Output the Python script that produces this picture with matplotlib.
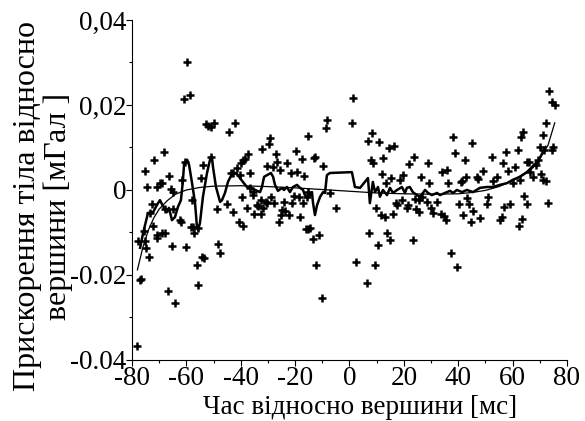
import matplotlib
matplotlib.use("Agg")
import matplotlib.pyplot as plt
import numpy as np
from matplotlib.ticker import MultipleLocator, FixedLocator, FixedFormatter

plt.rcParams["font.family"] = "serif"
plt.rcParams["font.serif"] = ["Liberation Serif", "DejaVu Serif"]
SERIF = ["Liberation Serif", "DejaVu Serif"]

# measured points: time [ms], acceleration [1e-3 mGal]
scatter_x = [
    -78.1, -77.0, -76.7, -77.7, -75.2, -75.6, -74.8, -73.7,
    -75.2, -71.9, -68.2, -74.5, -70.8, -69.7, -69.0, -66.4, -61.6,
    -65.6, -64.9, -72.6, -67.8, -64.9, -62.3, -57.9, -57.5,
    -53.9, -54.6, -48.7, -45.0, -42.8, -40.6, -39.2, -39.9, -40.3, -39.5,
    -70.8, -69.0, -67.8, -70.8, -72.2, -65.3, -60.1, -48.3, -47.6,
    -66.7, -64.2, -55.7, -56.1, -54.2, -53.5, -58.3, -57.2, -62.0,
    -59.7, -60.9, -58.7, -52.8, -52.0, -50.9, -49.8, -42.1, -44.3,
    -37.7,
    -37.3, -38.4, -39.2, -41.4, -43.6, -36.6, -32.2, -29.6, -29.2, -27.0,
    -26.7, -30.3, -28.1, -25.6, -23.0, -19.7, -17.5, -21.5, -19.3, -16.7,
    -15.3, -13.0, -12.7, -9.7, -8.6, -8.3, -7.2, 1.3, 0.9, 6.8,
    -35.1, -34.0, -32.5, -31.8, -30.7, -28.9, -27.8, -25.9, -25.2, -23.7,
    -24.1, -22.2, -21.1, -20.4, -18.6, -18.2, -17.1, -16.0, -15.3, -14.5,
    -15.6, -13.4, -11.2, -12.3, -10.1, -5.0, 2.4, 6.4, 7.2,
    -35.5, -32.5, -30.3, -33.6, -24.8, -15.3,
    9.4, 10.5, 9.7, 11.6, 13.1, 13.8, 14.9, 16.0, 17.1, 17.5,
    19.3, 21.1, 21.5, 23.3, 24.5, 25.6, 25.6, 28.5, 30.0, 30.7,
    32.2, 33.6, 34.7, 35.5, 37.3, 39.5, 40.3, 41.7, 43.2, 43.9,
    45.4, 44.7, 48.0, 50.6, 51.0, 55.3, 56.1, 56.8, 59.0, 62.3,
    63.4, 64.2, 65.3, 73.0,
    73.3, 74.5, 75.6, 72.3, 71.1, 70.0, 74.9, 74.5, 63.8, 63.1,
    62.0, 57.5, 56.4, 52.4, 45.0, 38.0, 38.8, 42.5, 35.9, 34.0,
    28.9, 23.7, 21.9, 19.7, 18.6, 16.4, 14.5, 12.3, 10.8, 8.3,
    7.9, 8.6, 11.9, 13.4, 15.3, 26.3, 29.2, 36.2, 41.0, 42.8,
    46.9, 47.3, 49.1, 54.2, 52.8, 58.3, 60.9, 65.3, 66.0, 67.5,
    70.4, 71.1, 72.2, 41.4, 24.1, 26.7,
    60.1, 62.7, 66.4, 68.6, 69.3, 71.5,
    -60.4, -50.8, -55.7, -42.8, -73.3, -36.6, -35.5,
]
scatter_y = [
    -36.7, -21.2, -20.9, -12.0, -12.0, -9.6, -13.6, -15.8,
    4.5, 7.1, 8.9, 0.7, 0.7, 1.6, 1.6, 3.3, 2.4,
    0.2, -0.5, -3.3, -4.5, -4.5, -7.1, -2.4, -8.7,
    5.9, 2.8, -4.5, -3.3, -5.2, -7.5, -8.5, 6.4, 3.5, -1.6,
    -10.6, -10.1, -10.1, -11.3, -8.5, -13.2, -13.4, -12.7, -14.8,
    -23.8, -26.6, -22.4, -17.6, -15.8, -16.0, -8.7, -10.1, -7.5,
    30.1, 21.4, 22.4, 15.5, 15.1, 14.8, 15.8, 15.8, 13.6,
    -4.2,
    8.5, 7.3, 7.1, 5.2, 4.0, 4.0, 9.6, 10.8, 12.2, 8.5,
    6.6, 5.6, 5.4, 4.7, 6.4, 9.2, 7.3, 4.0, 4.2, 3.3,
    12.7, 7.5, 7.8, 5.6, 14.6, 16.5, -0.7, 21.6, 15.8, 11.5,
    -5.6, -3.5, -5.6, -4.2, -2.8, -1.6, -3.1, -7.5, -5.9, -4.9,
    -2.8, -5.9, -3.1, -1.4, -1.6, -6.4, -3.1, -9.2, -9.2, -8.9,
    -1.6, -11.5, -10.6, -17.6, -25.4, -4.2, -16.9, -21.9, -10.1,
    -1.2, -2.4, -3.1, -3.8, -4.7, -0.5,
    -17.6, -12.9, -4.2, -5.9, -6.4, -10.1, -11.8, -5.6, -3.1, -3.5,
    -2.4, -4.2, -3.5, -11.8, -4.5, -5.2, -2.4, -2.8, -4.2, -5.4,
    -2.8, -5.6, -6.1, -7.1, -14.8, -18.1, -3.3, -5.9, -1.9, -3.3,
    -4.9, -7.5, -6.6, -3.3, -1.6, -7.1, -6.4, -4.0, -3.3, -8.5,
    -6.8, -1.4, -3.3, -3.1,
    23.3, 20.7, 20.0, 15.8, 12.9, 10.1, 10.1, 9.4, 13.6, 12.5,
    9.4, 8.9, 6.4, 7.8, 11.1, 12.5, 8.7, 7.1, 4.7, 4.2,
    6.4, 7.8, 6.1, 3.5, 2.4, 10.4, 9.9, 7.5, 11.3, 13.4,
    7.1, 6.4, 3.8, 1.6, 2.8, 3.1, 1.6, 1.6, 1.9, 3.1,
    3.1, 2.6, 4.5, 3.1, 2.1, 4.5, 5.4, 6.6, 6.6, 3.1,
    3.8, 2.4, 2.1, 2.1, -2.1, -1.6,
    1.6, 2.4, 4.2, 5.9, 7.1, 9.4,
    6.6, 7.8, -8.9, 4.0, -5.4, 0.5, -0.5,
]

# running (smoothed) curve
run_x = [
    -77.0, -75.9, -74.1, -72.2, -70.8, -69.7, -68.6, -67.1, -66.4, -65.3,
    -64.2, -63.1, -62.0, -61.3, -60.8, -59.7, -59.0, -57.9, -56.8, -56.1,
    -55.7, -55.0, -53.9, -52.4, -51.3, -50.6, -50.2, -49.1, -47.6, -46.9,
    -45.8, -44.7, -43.2, -41.7, -40.6, -39.2, -37.7, -36.6, -34.7, -32.9,
    -32.2, -31.4, -30.3, -28.9, -28.1, -27.4, -26.3, -24.8, -24.1, -23.0,
    -21.9, -20.8, -19.3, -18.2, -17.1, -16.4, -15.3, -13.8, -13.4, -12.7,
    -11.9, -10.8, -9.7, -9.0, -8.3, -7.2, 0.9, 2.0, 3.9, 6.8,
    7.5, 8.6, 9.4, 10.5, 11.2, 12.3, 13.8, 14.9, 16.0, 17.5,
    19.3, 20.4, 21.1, 22.2, 23.3, 24.8, 25.9, 27.0, 27.8, 28.9,
    30.3, 32.2, 33.3, 35.1, 37.0, 38.1, 39.5, 41.4, 43.2, 45.4,
    48.0, 50.6, 52.8, 55.3, 57.9, 60.1, 62.7, 65.3, 67.1, 69.0,
    70.0, 71.1, 72.2,
]
run_y = [
    -13.6, -10.1, -5.4, -5.2, -3.5, -2.4, -3.8, -5.2, -4.2, -7.1,
    -6.4, -4.0, -2.4, 1.9, 6.4, 7.1, 5.9, 1.6, -3.1, -8.7,
    -9.4, -7.8, -1.6, 4.0, 7.1, 7.8, 5.4, 0.7, -2.8, -2.4,
    -0.7, 1.9, 3.8, 4.0, 3.1, 1.9, 0.7, 0.7, 0.0, -0.5,
    0.7, 3.1, 3.5, 4.0, 3.1, 1.2, -0.2, 0.5, 0.0, 0.7,
    -0.5, 0.7, 1.2, 0.5, 0.0, -1.2, -1.9, -0.5, -3.1, -5.9,
    -3.5, -1.6, -0.5, -0.7, 3.5, 4.0, 4.2, 0.7, 0.5, 2.8,
    -3.1, 1.9, -0.5, 0.7, -1.6, 0.0, -1.2, 0.5, -0.7, 0.0,
    0.7, -0.7, 0.5, 0.7, -0.5, -1.2, -1.6, -0.7, 0.0, -0.7,
    -1.2, -0.7, -1.2, -0.7, -0.2, -0.7, 0.0, -0.5, 0.0, -0.5,
    0.5, 0.7, 0.7, 1.2, 1.6, 2.4, 3.1, 4.2, 5.2, 6.4,
    7.5, 8.9, 10.1,
]

# trend curve
trend_x = [-78, -76, -74, -72, -70, -67, -64, -60, -55, -50, -40, -30, -20,
           -10, 0, 10, 20, 30, 40, 45, 50, 55, 60, 65, 70, 73, 75.5]
trend_y = [-18.8, -13.5, -9.5, -6.6, -4.5, -2.5, -1.0, 0.0, 0.6, 0.9, 1.0,
           0.8, 0.5, 0.1, -0.3, -0.7, -0.9, -1.0, -0.9, -0.6, -0.1, 0.8,
           2.2, 4.2, 7.5, 10.5, 15.8]

x_ticks = [-80, -60, -40, -20, 0, 20, 40, 60, 80]
x_tick_labels = ["-80", "-60", "-40", "-20", "0", "20", "40", "60", "80"]
y_ticks = [-0.04, -0.02, 0, 0.02, 0.04]
y_tick_labels = ["-0.04", "-0.02", "0", "0,02", "0,04"]

fig = plt.figure(figsize=(5.85, 4.21), dpi=100)
ax = fig.add_axes([0.2256, 0.145, 0.7436, 0.8075])

sy = np.array(scatter_y) * 1e-3
ax.plot(scatter_x, sy, linestyle="none", marker="+", markersize=5.5,
        markeredgewidth=1.8, color="black")
ax.plot(run_x, np.array(run_y) * 1e-3, color="black", linewidth=1.8)
ax.plot(trend_x, np.array(trend_y) * 1e-3, color="black", linewidth=0.9)

ax.set_xlim(-80, 80)
ax.set_ylim(-0.04, 0.04)
ax.spines["top"].set_visible(False)
ax.spines["right"].set_visible(False)

ax.xaxis.set_major_locator(FixedLocator(x_ticks))
ax.xaxis.set_major_formatter(FixedFormatter(x_tick_labels))
ax.xaxis.set_minor_locator(MultipleLocator(10))
ax.yaxis.set_major_locator(FixedLocator(y_ticks))
ax.yaxis.set_major_formatter(FixedFormatter(y_tick_labels))
ax.yaxis.set_minor_locator(MultipleLocator(0.01))
ax.tick_params(which="major", length=4, width=0.8, labelsize=19.5, pad=0)
ax.tick_params(which="minor", length=2.5, width=0.8)
plt.setp(ax.get_xticklabels() + ax.get_yticklabels(), fontfamily=SERIF)

fig.text(0.615, 0.032, "Час відносно вершини [мс]", fontsize=19.5,
         fontfamily=SERIF, ha="center", va="center")
fig.text(0.073, 0.51, "Прискорення тіла відносно\nвершини [мГал ]",
         fontsize=23, fontfamily=SERIF, rotation=90, ha="center",
         va="center", linespacing=1.05, multialignment="center")

fig.savefig("out.png", dpi=100)
